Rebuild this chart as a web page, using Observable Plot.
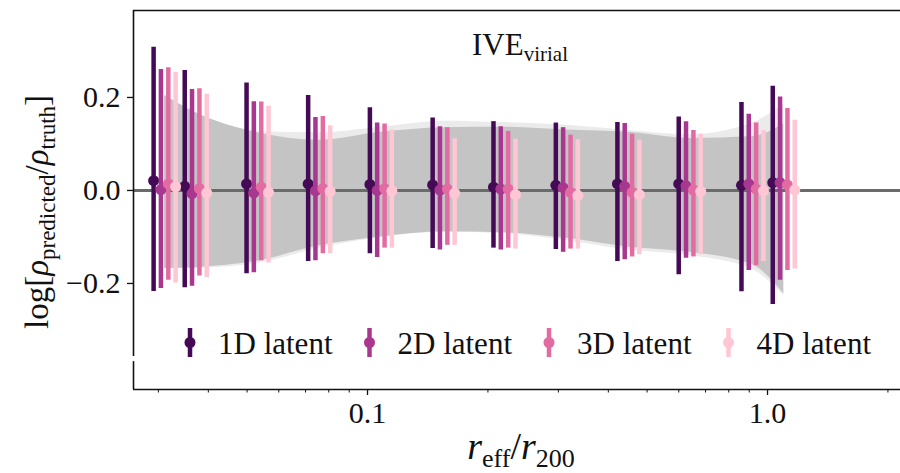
<!DOCTYPE html>
<html>
<head>
<meta charset="utf-8">
<script src="https://cdn.jsdelivr.net/npm/d3@7"></script>
<script src="https://cdn.jsdelivr.net/npm/@observablehq/plot@0.6"></script>
<style>
  html, body { margin: 0; padding: 0; background: #fff; }
</style>
</head>
<body>
<div id="chart"></div>
<script>
// ---- data ----
const bins = [0.0311, 0.0372, 0.0531, 0.0757, 0.108, 0.155, 0.220, 0.315, 0.449, 0.639, 0.917, 1.098];
const series = ["1D latent", "2D latent", "3D latent", "4D latent"];
const colors = ["#440a55", "#a8388f", "#e26ca2", "#ffc6d4"];

const mid1D = [0.021, 0.009, 0.014, 0.014, 0.013, 0.012, 0.007, 0.011, 0.014, 0.014, 0.011, 0.017];
const mid2D = [0.002, -0.007, -0.005, -0.001, 0.000, 0.001, 0.003, 0.006, 0.009, 0.010, 0.014, 0.017];
const mid3D = [0.014, 0.004, 0.007, 0.004, 0.004, 0.003, 0.003, -0.004, -0.004, 0.001, 0.003, 0.012];
const mid4D = [0.008, -0.005, -0.004, -0.002, -0.001, -0.006, -0.009, -0.011, -0.009, -0.002, -0.001, 0.001];

const hi1D = [0.308, 0.258, 0.231, 0.204, 0.178, 0.156, 0.148, 0.145, 0.146, 0.158, 0.189, 0.224];
const hi2D = [0.260, 0.217, 0.191, 0.157, 0.145, 0.137, 0.137, 0.135, 0.144, 0.148, 0.164, 0.201];
const hi3D = [0.264, 0.219, 0.190, 0.159, 0.143, 0.135, 0.127, 0.119, 0.121, 0.129, 0.145, 0.176];
const hi4D = [0.254, 0.207, 0.181, 0.139, 0.130, 0.111, 0.110, 0.109, 0.108, 0.121, 0.129, 0.151];

const lo1D = [-0.217, -0.209, -0.179, -0.153, -0.136, -0.125, -0.124, -0.127, -0.153, -0.181, -0.218, -0.245];
const lo2D = [-0.211, -0.206, -0.177, -0.151, -0.144, -0.128, -0.128, -0.133, -0.149, -0.146, -0.172, -0.193];
const lo3D = [-0.193, -0.184, -0.151, -0.136, -0.124, -0.118, -0.124, -0.126, -0.143, -0.143, -0.162, -0.172];
const lo4D = [-0.199, -0.187, -0.156, -0.136, -0.124, -0.118, -0.126, -0.126, -0.138, -0.138, -0.153, -0.169];

// shaded bands (outer light, inner dark)
const lightHi = [0.204, 0.168, 0.127, 0.124, 0.136, 0.149, 0.146, 0.140, 0.129, 0.120, 0.145, 0.186];
const lightLo = [-0.168, -0.167, -0.157, -0.124, -0.101, -0.090, -0.093, -0.108, -0.128, -0.140, -0.170, -0.226];
const darkHi  = [0.204, 0.167, 0.124, 0.108, 0.125, 0.135, 0.136, 0.130, 0.125, 0.112, 0.116, 0.143];
const darkLo  = [-0.168, -0.166, -0.152, -0.119, -0.100, -0.089, -0.091, -0.103, -0.122, -0.133, -0.160, -0.222];

// axes
const xMajor = [0.1, 1];
const xTickLabels = ["0.1", "1.0"];
const xMinor = [0.03, 0.04, 0.05, 0.06, 0.07, 0.08, 0.09, 0.2, 0.3, 0.4, 0.5, 0.6, 0.7, 0.8, 0.9, 2];
const yTicks = [-0.2, 0, 0.2];
const yTickLabels = ["\u22120.2", "0.0", "0.2"];

// ---- layout ----
const xDomain = [0.026, 2.15];
const yDomain = [-0.428, 0.387];
const panelBreak = [-0.357, -0.368];
const offsets = [-11, -3.7, 3.7, 11];

const mids = [mid1D, mid2D, mid3D, mid4D];
const his = [hi1D, hi2D, hi3D, hi4D];
const los = [lo1D, lo2D, lo3D, lo4D];

const bandRows = bins.map((x, i) => ({x, lightHi: lightHi[i], lightLo: lightLo[i], darkHi: darkHi[i], darkLo: darkLo[i]}));

const marks = [
  Plot.areaY(bandRows, {x: "x", y1: "lightLo", y2: "lightHi", fill: "#ebebeb", curve: "monotone-x"}),
  Plot.areaY(bandRows, {x: "x", y1: "darkLo", y2: "darkHi", fill: "#c4c4c4", curve: "monotone-x"}),
  Plot.ruleY([0], {stroke: "#6b6b6b", strokeWidth: 3})
];
series.forEach((s, k) => {
  const rows = bins.map((x, i) => ({x, y: mids[k][i], lo: los[k][i], hi: his[k][i]}));
  marks.push(Plot.ruleX(rows, {x: "x", y1: "lo", y2: "hi", stroke: colors[k], strokeWidth: 4.5, dx: offsets[k]}));
  marks.push(Plot.dot(rows, {x: "x", y: "y", fill: colors[k], r: 5.5, dx: offsets[k]}));
});
marks.push(
  Plot.ruleY([yDomain[1]], {stroke: "#111", strokeWidth: 1.6}),
  Plot.ruleY([yDomain[0]], {stroke: "#111", strokeWidth: 1.6}),
  Plot.ruleX([{a: yDomain[1], b: panelBreak[0]}, {a: panelBreak[1], b: yDomain[0]}],
             {x: () => xDomain[0], y1: "a", y2: "b", stroke: "#111", strokeWidth: 1.6}),
  Plot.axisY({ticks: yTicks, tickFormat: d => yTickLabels[yTicks.indexOf(d)], tickSize: 6, tickPadding: 7, label: null, strokeWidth: 1.3}),
  Plot.axisX({ticks: xMinor, tickFormat: () => "", tickSize: 3.5, label: null, strokeWidth: 1}),
  Plot.axisX({ticks: xMajor, tickFormat: d => xTickLabels[xMajor.indexOf(d)], tickSize: 6, tickPadding: 6, label: null, strokeWidth: 1.3})
);

const svg = Plot.plot({
  width: 900,
  height: 473,
  marginLeft: 133,
  marginRight: 0,
  marginTop: 10,
  marginBottom: 84,
  x: {type: "log", domain: xDomain},
  y: {domain: yDomain},
  style: {fontFamily: "'Liberation Serif', serif", fontSize: "30px", background: "#fff", color: "#111", overflow: "visible"},
  marks
});

// ---- text decorations ----
const g = d3.select(svg);
const title = g.append("text").attr("x", 520).attr("y", 55).attr("text-anchor", "middle").style("font-size", "31px").attr("fill", "#111");
title.append("tspan").text("IVE");
title.append("tspan").attr("dy", 6).style("font-size", "21px").text("virial");

const xl = g.append("text").attr("x", 521).attr("y", 459).attr("text-anchor", "middle").style("font-size", "38px").attr("fill", "#111");
xl.append("tspan").style("font-style", "italic").text("r");
xl.append("tspan").attr("dy", 8).style("font-size", "26px").text("eff");
xl.append("tspan").attr("dy", -8).text("/");
xl.append("tspan").style("font-style", "italic").text("r");
xl.append("tspan").attr("dy", 8).style("font-size", "26px").text("200");

const yl = g.append("text").attr("transform", "translate(48,212) rotate(-90)").attr("text-anchor", "middle").style("font-size", "33px").attr("fill", "#111");
yl.append("tspan").text("log[");
yl.append("tspan").style("font-style", "italic").text("\u03c1");
yl.append("tspan").attr("dy", 7).style("font-size", "23px").text("predicted");
yl.append("tspan").attr("dy", -7).text("/");
yl.append("tspan").style("font-style", "italic").text("\u03c1");
yl.append("tspan").attr("dy", 7).style("font-size", "23px").text("truth");
yl.append("tspan").attr("dy", -7).text("]");

// legend
const lg = g.append("g").attr("text-anchor", "start");
series.forEach((s, k) => {
  const cx = 190 + k * 179.5;
  lg.append("line").attr("x1", cx).attr("x2", cx).attr("y1", 328).attr("y2", 357).attr("stroke", colors[k]).attr("stroke-width", 4.5);
  lg.append("circle").attr("cx", cx).attr("cy", 342.5).attr("r", 5.5).attr("fill", colors[k]);
  lg.append("text").attr("x", cx + 28).attr("y", 343).attr("dy", "0.35em").attr("text-anchor", "start").style("font-size", "31px").attr("fill", "#111").text(s);
});

document.getElementById("chart").appendChild(svg);
</script>
</body>
</html>
